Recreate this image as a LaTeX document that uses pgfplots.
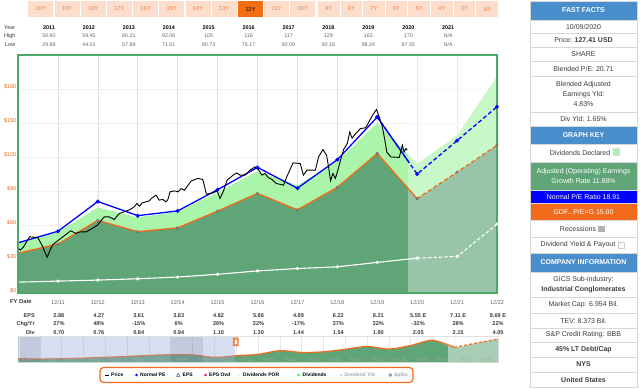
\documentclass[border=0pt]{standalone}
\usepackage{pgfplots}
\pgfplotsset{compat=1.18}
\usepackage{fontspec}
\setmainfont{Liberation Sans}
\definecolor{dg}{RGB}{95,165,120}
\definecolor{lg}{RGB}{170,245,170}
\definecolor{og}{RGB}{242,107,29}
\definecolor{bord}{RGB}{76,170,105}
\definecolor{hdr}{RGB}{74,142,204}
\definecolor{tabbg}{RGB}{253,222,204}
\definecolor{tabtx}{RGB}{242,158,110}
\definecolor{tabsel}{RGB}{242,110,20}
\definecolor{ytx}{RGB}{240,110,30}
\definecolor{txt}{RGB}{60,60,60}
\definecolor{cellb}{RGB}{215,215,215}
\definecolor{maskc}{RGB}{150,170,215}
\newcommand{\fs}[1]{\fontsize{#1}{#1}\selectfont}
\newcommand{\NA}{N/A}
\begin{document}
\begin{tikzpicture}[x=1bp,y=-1bp]
\path[use as bounding box] (0,0) rectangle (640,388);
\fill[white] (0,0) rectangle (640,388);
% ---------- period tabs ----------
\foreach \lab [count=\i from 0] in {20Y,19Y,18Y,17Y,16Y,15Y,14Y,13Y,12Y,11Y,10Y}{
  \pgfmathsetmacro{\xa}{28.3+26.2*\i}
  \ifnum\i=8 \def\bg{tabsel}\def\tc{black!65!tabsel}\else\def\bg{tabbg}\def\tc{tabtx}\fi
  \fill[\bg] (\xa,1) rectangle ({\xa+25},17);
  \node[font={\fs{5.8}\bfseries}, text=\tc] at ({\xa+12.5},9) {\lab};
}
\foreach \lab [count=\i from 0] in {9Y,8Y,7Y,6Y,5Y,4Y,3Y,All}{
  \pgfmathsetmacro{\xa}{318+22.6*\i}
  \fill[tabbg] (\xa,1) rectangle ({\xa+21.5},17);
  \node[font={\fs{5.8}\bfseries}, text=tabtx] at ({\xa+10.75},9) {\lab};
}
% ---------- year / high / low ----------
\node[font=\fs{5.5}, text=txt, anchor=west, inner sep=0] at (4,27.7) {Year};
\node[font=\fs{5.5}, text=txt, anchor=west, inner sep=0] at (4,36) {High};
\node[font=\fs{5.5}, text=txt, anchor=west, inner sep=0] at (5,44.3) {Low};
\foreach \y/\h/\l [count=\i from 0] in {2011/50.60/29.88,2012/59.45/44.01,2013/80.21/57.89,2014/92.06/71.51,2015/105/80.73,2016/116/75.17,2017/117/92.09,2018/129/92.16,2019/163/98.24,2020/170/97.55,2021/\NA/\NA}{
  \pgfmathsetmacro{\xc}{49+39.92*\i}
  \node[font={\fs{5.4}\bfseries}, text=black] at (\xc,27.7) {\y};
  \node[font=\fs{5.3}, text=black!60] at (\xc,36) {\h};
  \node[font=\fs{5.3}, text=black!60] at (\xc,44.3) {\l};
}
% ---------- main chart ----------
\begin{axis}[
  at={(18bp,-293bp)}, anchor=south west,
  scale only axis, width=479bp, height=238bp,
  xmin=2010, xmax=2022, ymin=0, ymax=210,
  axis line style={draw=none},
  xtick={2011,...,2021}, xticklabels={},
  ytick={0,30,...,180},
  yticklabels={\$0,\$30,\$60,\$90,\$120,\$150,\$180},
  yticklabel style={font=\fs{5.6}, text=ytx, yshift=2.5bp, xshift=-0.5bp, inner sep=1bp},
  major tick length=0pt,
  xmajorgrids,
  major grid style={draw=black!13, line width=0.6bp},
  clip=false,
]
\pgfplotsinvokeforeach{30,60,90,120,150,180}{\draw[black!6, line width=0.5bp] (axis cs:2010,#1) -- (axis cs:2022,#1);}
% dividends declared band top: (EPS+Div)*15
\addplot[fill=lg, draw=none] coordinates {(2010,44.7)(2011,53.7)(2012,75.45)(2013,66.75)(2014,71.55)(2015,88.8)(2016,107.4)(2017,94.95)(2018,116.4)(2019,150.15)(2020,114)(2021,138.9)(2022,191.1)} \closedcycle;
% earnings * 15
\addplot[fill=dg, draw=none] coordinates {(2010,35.1)(2011,43.2)(2012,64.05)(2013,54.15)(2014,57.45)(2015,72.3)(2016,87.9)(2017,73.35)(2018,93.3)(2019,123.15)(2020,83.25)(2021,106.65)(2022,130.35)} \closedcycle;
% future (estimates) region lighter
\fill[white, opacity=0.36] (axis cs:2019.78,0) rectangle (axis cs:2022,210);
% dividend line
\addplot[white, line width=1.1bp, mark=*, mark size=1bp, mark indices={2,3,4,5,6,7,8,9,10,11}] coordinates {(2010,9.6)(2011,10.5)(2012,11.4)(2013,12.6)(2014,14.1)(2015,16.5)(2016,19.5)(2017,21.6)(2018,23.1)(2019,27)(2020,30.75)};
\addplot[white, line width=1.1bp, dash pattern=on 3.5bp off 2bp, mark=*, mark size=1bp, mark options={solid}] coordinates {(2020,30.75)(2021,32.25)(2022,60.75)};
% orange GDF line
\addplot[og, line width=1.3bp, mark=*, mark size=1.3bp, mark indices={2,3,4,5,6,7,8,9,10,11}, mark options={fill=gray!45, draw=gray!60!black, line width=0.4bp}] coordinates {(2010,35.1)(2011,43.2)(2012,64.05)(2013,54.15)(2014,57.45)(2015,72.3)(2016,87.9)(2017,73.35)(2018,93.3)(2019,123.15)(2020,83.25)};
\addplot[og, line width=1.3bp, dash pattern=on 4bp off 2.5bp, mark=*, mark size=1.3bp, mark options={solid, fill=gray!45, draw=gray!60!black, line width=0.4bp}] coordinates {(2020,83.25)(2021,106.65)(2022,130.35)};
% blue normal PE line
\addplot[blue, line width=1.3bp, dash pattern=on 4bp off 2.5bp, mark=*, mark size=1.2bp, mark options={solid}] coordinates {(2019,155.25)(2020,104.95)(2021,134.45)(2022,164.33)};
\begin{scope}
\clip (axis cs:2018.9,0) rectangle (axis cs:2019.78,210);
\addplot[blue, line width=1.3bp] coordinates {(2019,155.25)(2020,104.95)};
\end{scope}
\addplot[blue, line width=1.3bp, mark=*, mark size=1.2bp, mark indices={2,3,4,5,6,7,8,9,10}] coordinates {(2010,44.3)(2011,54.46)(2012,80.75)(2013,68.27)(2014,72.43)(2015,91.15)(2016,110.81)(2017,92.47)(2018,117.62)(2019,155.25)};
% price
\addplot[black, line width=0.9bp] coordinates {(2010.00,39.9)(2010.06,37.9)(2010.14,40.8)(2010.29,49.6)(2010.44,49.1)(2010.50,48.7)(2010.60,42.3)(2010.73,31.5)(2010.86,42.3)(2010.96,45.2)(2011.15,50.2)(2011.32,54.9)(2011.45,52.6)(2011.57,54.0)(2011.71,54.0)(2011.86,57.0)(2011.99,59.9)(2012.16,67.2)(2012.28,67.2)(2012.41,64.9)(2012.54,70.2)(2012.66,71.6)(2012.81,73.7)(2012.91,76.0)(2012.98,79.0)(2013.04,76.7)(2013.12,79.6)(2013.29,81.3)(2013.34,83.4)(2013.46,86.3)(2013.54,81.9)(2013.63,82.6)(2013.70,80.4)(2013.75,81.9)(2013.81,89.3)(2013.92,90.1)(2014.01,89.3)(2014.09,92.2)(2014.17,90.7)(2014.34,98.9)(2014.51,101.1)(2014.63,100.2)(2014.72,87.2)(2014.89,88.4)(2014.99,90.1)(2015.06,83.4)(2015.14,89.3)(2015.24,99.6)(2015.39,104.0)(2015.48,106.0)(2015.56,104.0)(2015.69,104.0)(2015.81,108.4)(2015.94,111.3)(2016.02,109.0)(2016.11,104.0)(2016.19,105.5)(2016.27,101.9)(2016.36,100.2)(2016.47,96.7)(2016.55,96.0)(2016.65,95.2)(2016.74,103.1)(2016.89,114.8)(2017.07,114.3)(2017.15,104.0)(2017.24,108.4)(2017.45,108.4)(2017.53,120.1)(2017.64,126.6)(2017.73,121.6)(2017.78,111.3)(2017.83,99.1)(2017.89,105.5)(2017.95,101.1)(2017.99,105.5)(2018.08,117.2)(2018.16,126.9)(2018.25,131.9)(2018.31,142.1)(2018.37,136.6)(2018.46,140.7)(2018.58,145.1)(2018.71,145.8)(2018.79,150.9)(2018.88,156.8)(2018.98,161.9)(2019.04,156.4)(2019.13,146.3)(2019.19,134.8)(2019.24,124.2)(2019.34,120.1)(2019.55,119.6)(2019.63,130.4)(2019.67,124.5)(2019.72,127.5)(2019.75,126.0)};
\draw[bord, line width=1.3bp] (rel axis cs:0,0) rectangle (rel axis cs:1,1);
\end{axis}
% ---------- FY rows ----------
\node[font={\fs{5.8}\bfseries}, text=txt, anchor=west, inner sep=0] at (10,302) {FY Date};
\foreach \d [count=\i from 1] in {12/11,12/12,12/13,12/14,12/15,12/16,12/17,12/18,12/19,12/20,12/21,12/22}{
  \node[font=\fs{5.6}, text=black!60] at ({18+39.92*\i},302) {\d};
}
\node[font={\fs{5.6}\bfseries}, text=txt, anchor=east, inner sep=0] at (35,315.7) {EPS};
\node[font={\fs{5.6}\bfseries}, text=txt, anchor=east, inner sep=0] at (35,324) {Chg/Yr};
\node[font={\fs{5.6}\bfseries}, text=txt, anchor=east, inner sep=0] at (35,332.3) {Div};
\foreach \e/\c/\v [count=\i from 1] in {2.88/27\%/0.70,4.27/48\%/0.76,3.61/-15\%/0.84,3.83/6\%/0.94,4.82/26\%/1.10,5.86/22\%/1.30,4.89/-17\%/1.44,6.22/27\%/1.54,8.21/32\%/1.80,5.55 E/-32\%/2.05,7.11 E/28\%/2.15,8.69 E/22\%/4.05}{
  \node[font={\fs{5.6}\bfseries}, text=txt] at ({19+39.92*\i},315.7) {\e};
  \node[font={\fs{5.6}\bfseries}, text=txt] at ({19+39.92*\i},324) {\c};
  \node[font={\fs{5.6}\bfseries}, text=txt] at ({19+39.92*\i},332.3) {\v};
}
% ---------- navigator ----------
\begin{axis}[
  at={(18bp,-362bp)}, anchor=south west,
  scale only axis, width=480bp, height=25.5bp,
  xmin=2000, xmax=2022, ymin=0, ymax=25,
  axis line style={draw=black!12},
  xtick={2000,...,2022}, xticklabels={}, ytick=\empty,
  major tick length=0pt, xmajorgrids,
  major grid style={draw=black!10, line width=0.5bp},
]
\addplot[fill=dg, draw=none, smooth] coordinates {(2000,3.2)(2001,3.0)(2002,3.2)(2003,3.8)(2004,4.6)(2005,5.5)(2006,6.5)(2007,7.2)(2008,7.0)(2009,4.6)(2010,6.1)(2011,7.5)(2012,11.1)(2013,9.4)(2014,10.0)(2015,12.5)(2016,15.2)(2017,12.7)(2018,16.2)(2019,21.3)(2020,14.4)(2021,18.5)(2022,22.6)} \closedcycle;
\fill[white, opacity=0.45] (axis cs:2019.7,0) rectangle (axis cs:2022,25);
\addplot[og, line width=1.2bp, smooth] coordinates {(2000,3.2)(2001,3.0)(2002,3.2)(2003,3.8)(2004,4.6)(2005,5.5)(2006,6.5)(2007,7.2)(2008,7.0)(2009,4.6)(2010,6.1)(2011,7.5)(2012,11.1)(2013,9.4)(2014,10.0)(2015,12.5)(2016,15.2)(2017,12.7)(2018,16.2)(2019,21.3)(2020,14.4)};
\addplot[og, line width=1.2bp, dash pattern=on 3bp off 2bp] coordinates {(2020,14.4)(2021,18.5)(2022,22.6)};
\fill[black, opacity=0.13] (axis cs:2000.1,0) rectangle (axis cs:2001,25);
\fill[black, opacity=0.13] (axis cs:2007,0) rectangle (axis cs:2008.5,25);
\fill[maskc, opacity=0.38] (axis cs:2000,0) rectangle (axis cs:2009.95,25);
\end{axis}
\foreach \i in {1,...,22}{
  \node[font=\fs{4.8}, text=black!35] at ({18+(\i-0.5)*21.818},359.8) {FY\ifnum\i<10 0\fi\i};
}
\filldraw[fill=og!75, draw=og, rounded corners=0.8bp] (233,337.5) rectangle (238.5,346);
\draw[white, line width=0.4bp] (235.2,339.5) -- (235.2,344) (236.3,339.5) -- (236.3,344);
% ---------- legend ----------
\draw[og, line width=1.2bp, rounded corners=3.5bp] (100,367.5) rectangle (413,382.5);
\draw[black, line width=1bp] (105,375) -- (108.5,375);
\node[anchor=west, font={\fs{5}\bfseries}, inner sep=0] at (111,375) {Price};
\fill[blue] (136.5,375) circle (1.3);
\node[anchor=west, font={\fs{5}\bfseries}, inner sep=0] at (140,375) {Normal PE};
\draw[black!70, line width=0.5bp] (176.6,376.3) -- (178.3,373.4) -- (180,376.3) -- cycle;
\node[anchor=west, font={\fs{5}\bfseries}, inner sep=0] at (182.5,375) {EPS};
\fill[magenta] (205.5,375) circle (1.3);
\node[anchor=west, font={\fs{5}\bfseries}, inner sep=0] at (209,375) {EPS Ovd};
\fill[green!12] (239,375) circle (1.6);
\node[anchor=west, font={\fs{5}\bfseries}, inner sep=0] at (243,375) {Dividends POR};
\fill[green!50!lg] (298.5,375) circle (1.7);
\node[anchor=west, font={\fs{5}\bfseries}, inner sep=0] at (302.5,375) {Dividends};
\fill[black!25] (341.2,375) circle (1.1);
\node[anchor=west, font={\fs{5}\bfseries}, text=black!35, inner sep=0] at (344.5,375) {Dividend Yld};
\filldraw[fill=black!35, draw=black!45] (390.3,375) circle (1.6);
\node[anchor=west, font={\fs{5}\bfseries}, text=black!35, inner sep=0] at (394,375) {Splits};
% ---------- fast facts panel ----------
\def\cx{583.5}
\newcommand{\cellr}[3]{\filldraw[fill=#3, draw=cellb, line width=0.5bp] (530,#1) rectangle (637,#2);}
\cellr{1}{20}{hdr}
\node[font={\fs{7}\bfseries}, text=white] at (\cx,10.5) {FAST FACTS};
\cellr{20}{33.5}{white}
\node[font=\fs{7}, text=txt] at (\cx,26.8) {10/09/2020};
\cellr{33.5}{47}{white}
\node[font=\fs{7}, text=txt] at (\cx,40.3) {Price: \textbf{127.41 USD}};
\cellr{47}{61.5}{white}
\node[font=\fs{7}, text=txt] at (\cx,54.3) {SHARE};
\cellr{61.5}{76}{white}
\node[font=\fs{7}, text=txt] at (\cx,68.8) {Blended P/E: 20.71};
\cellr{76}{112}{white}
\node[font=\fontsize{7}{10}\selectfont, text=txt, align=center] at (\cx,94) {Blended Adjusted\\Earnings Yld:\\4.83\%};
\cellr{112}{126}{white}
\node[font=\fs{7}, text=txt] at (\cx,119) {Div Yld: 1.65\%};
\cellr{126}{144}{hdr}
\node[font={\fs{7}\bfseries}, text=white] at (\cx,135) {GRAPH KEY};
\cellr{144}{162}{white}
\node[font=\fs{7}, text=txt] at (580,153) {Dividends Declared};
\filldraw[fill=lg, draw=black!15, line width=0.3bp] (613.5,148.5) rectangle (619.5,155);
\cellr{162}{190}{dg}
\node[font=\fontsize{7}{9.5}\selectfont, text=white, align=center] at (\cx,176) {Adjusted (Operating) Earnings\\Growth Rate 11.88\%};
\cellr{190}{203.5}{blue}
\node[font=\fs{7}, text=white] at (\cx,196.8) {Normal P/E Ratio 18.91};
\cellr{203.5}{220}{og}
\node[font=\fs{7}, text=white] at (\cx,211.8) {GDF...P/E=G 15.00};
\cellr{220}{237}{white}
\node[font=\fs{7}, text=txt] at (578,228.5) {Recessions};
\fill[black!30] (598,225.5) rectangle (604.5,231.5);
\cellr{237}{253}{white}
\node[font=\fs{7}, text=txt] at (578,245) {Dividend Yield \& Payout};
\filldraw[fill=green!6, draw=black!20, line width=0.3bp] (618,242) rectangle (624.5,248);
\cellr{253}{272}{hdr}
\node[font={\fs{7}\bfseries}, text=white] at (\cx,262.5) {COMPANY INFORMATION};
\cellr{272}{297}{white}
\node[font=\fontsize{7}{9.5}\selectfont, text=txt, align=center] at (\cx,284.5) {GICS Sub-industry:\\\textbf{Industrial Conglomerates}};
\cellr{297}{313}{white}
\node[font=\fs{7}, text=txt] at (\cx,305) {Market Cap: 6.954 Bil.};
\cellr{313}{328}{white}
\node[font=\fs{7}, text=txt] at (\cx,320.5) {TEV: 8.373 Bil.};
\cellr{328}{342}{white}
\node[font=\fs{7}, text=txt] at (\cx,335) {S\&P Credit Rating: BBB};
\cellr{342}{357}{white}
\node[font={\fs{7}\bfseries}, text=txt] at (\cx,349.5) {45\% LT Debt/Cap};
\cellr{357}{372}{white}
\node[font={\fs{7}\bfseries}, text=txt] at (\cx,364.5) {NYS};
\cellr{372}{387.5}{white}
\node[font={\fs{7}\bfseries}, text=txt] at (\cx,379.5) {United States};
\end{tikzpicture}
\end{document}
